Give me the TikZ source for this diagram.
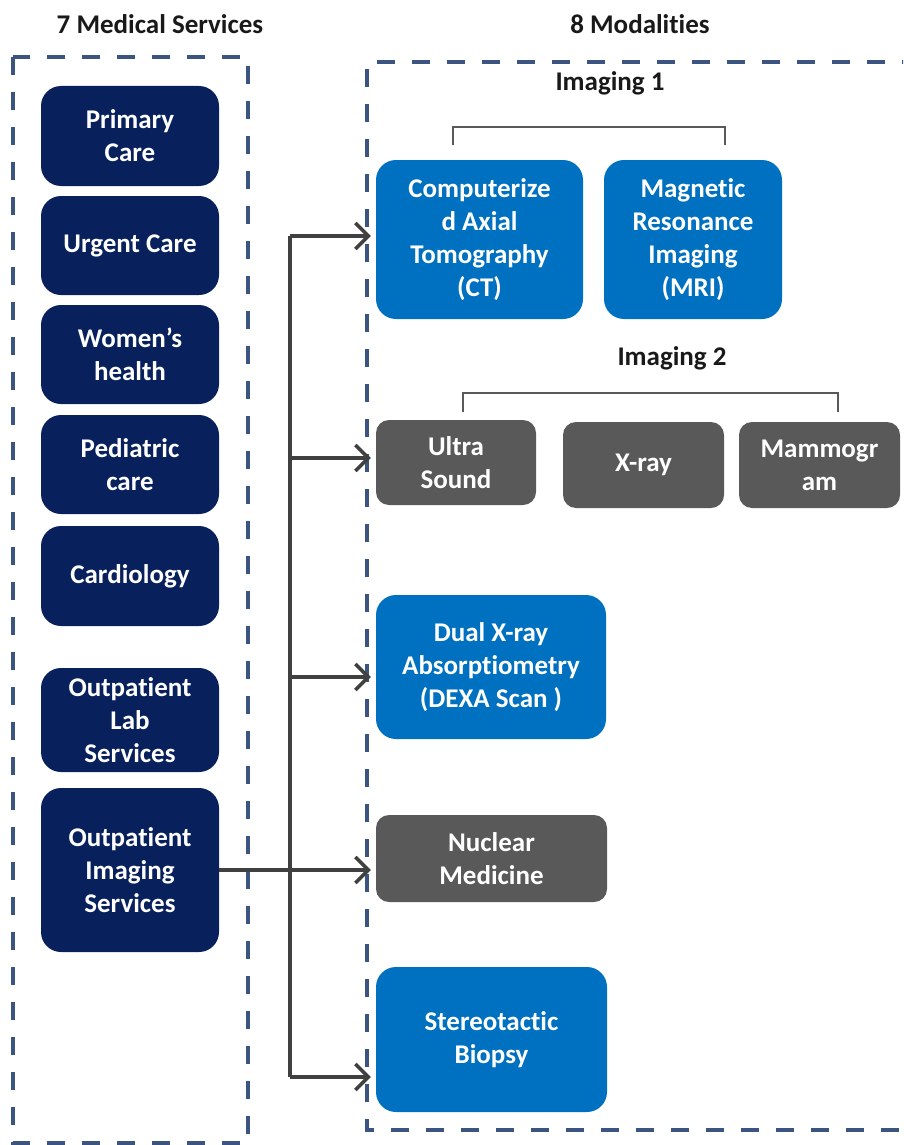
\documentclass[tikz,border=0pt]{standalone}
\usepackage{fontspec}
\setmainfont{Carlito}[Ligatures=NoCommon]
\usetikzlibrary{arrows.meta,positioning}
\definecolor{navy}{RGB}{8,32,92}
\definecolor{mblue}{RGB}{0,112,192}
\definecolor{mgray}{RGB}{89,89,89}
\definecolor{dashc}{RGB}{60,84,128}
\definecolor{arrc}{RGB}{64,64,64}
\tikzset{
  box/.style={rounded corners=20pt, text=white, align=center, inner sep=0pt,
    font=\fontsize{27}{33}\selectfont\bfseries},
  svc/.style={box, fill=navy, minimum width=178pt},
  bluebox/.style={box, fill=mblue},
  graybox/.style={box, fill=mgray, rounded corners=13pt},
  frame/.style={draw=dashc, line width=4pt, dash pattern=on 18pt off 17pt},
  arr/.style={draw=arrc, line width=3.5pt, -{Straight Barb[length=13pt,width=26pt,line width=3.5pt]}, shorten >=5pt},
  spine/.style={draw=arrc, line width=3.5pt},
  brk/.style={draw=mgray, line width=2.4pt},
  title/.style={font=\fontsize{27}{33}\selectfont\bfseries, text=black!90}
}
\begin{document}
\begin{tikzpicture}[x=1pt,y=-1pt]
\useasboundingbox (0,0) rectangle (903,1145);
\clip (0,0) rectangle (903,1145);
\fill[white] (0,0) rectangle (903,1145);

% titles
\node[title] (t1) at (160,24) {7 Medical Services};
\node[title] (t2) at (640,24) {8 Modalities};
\node[title] (i1) at (610,83) {Imaging 1};
\node[title] (i2) at (672,358) {Imaging 2};

% frames
\draw[frame] (13,57) rectangle (248,1143);
\draw[frame] (920,62) -- (367,62) -- (367,1130) -- (920,1130);

% services
\node[svc, minimum height=100pt] (primary) at (130,136) {Primary\\Care};
\node[svc, minimum height=99pt] (urgent) at (130,245.5) {Urgent Care};
\node[svc, minimum height=99pt] (women) at (130,354.5) {Women’s\\health};
\node[svc, minimum height=99pt] (pedi) at (130,464.5) {Pediatric\\care};
\node[svc, minimum height=100pt] (cardio) at (130,576) {Cardiology};
\node[svc, minimum height=104pt] (lab) at (130,720) {Outpatient\\Lab\\Services};
\node[svc, minimum height=164pt] (oimg) at (130,870) {Outpatient\\Imaging\\Services};

% modalities
\node[bluebox, minimum width=207pt, minimum height=159pt] (ct) at (479.5,239.5) {Computerize\\d Axial\\Tomography\\(CT)};
\node[bluebox, minimum width=178pt, minimum height=159pt] (mri) at (693,239.5) {Magnetic\\Resonance\\Imaging\\(MRI)};
\node[graybox, minimum width=160pt, minimum height=85pt] (us) at (456,462.5) {Ultra\\Sound};
\node[graybox, minimum width=161pt, minimum height=86pt] (xray) at (643.5,465) {X-ray};
\node[graybox, minimum width=161pt, minimum height=86pt] (mammo) at (819.5,465) {Mammogr\\am};
\node[bluebox, minimum width=230pt, minimum height=144pt] (dexa) at (491,667) {Dual X-ray\\Absorptiometry\\(DEXA Scan )};
\node[graybox, minimum width=231pt, minimum height=87pt] (nuc) at (491.5,858.5) {Nuclear\\Medicine};
\node[bluebox, minimum width=231pt, minimum height=145pt] (stereo) at (491.5,1039.5) {Stereotactic\\Biopsy};

% brackets
\coordinate (b1a) at (453,145);
\coordinate (b1b) at (725,145);
\draw[brk] (b1a) -- (453,127) -- (725,127) -- (b1b);
\coordinate (b2a) at (463,412);
\coordinate (b2b) at (838,412);
\draw[brk] (b2a) -- (463,393) -- (838,393) -- (b2b);

% connectors
\coordinate (s1) at (290,236);
\coordinate (s2) at (290,458);
\coordinate (s3) at (290,677);
\coordinate (s5) at (290,1077);
\draw[spine] (s1) -- (s5);
\draw[arr] (s1) -- (s1 -| ct.west);
\draw[arr] (s2) -- (s2 -| us.west);
\draw[arr] (s3) -- (s3 -| dexa.west);
\draw[arr] (s5) -- (s5 -| stereo.west);
\coordinate (n1) at (219,870);
\draw[arr] (n1) -- (n1 -| nuc.west);
\end{tikzpicture}
\end{document}
